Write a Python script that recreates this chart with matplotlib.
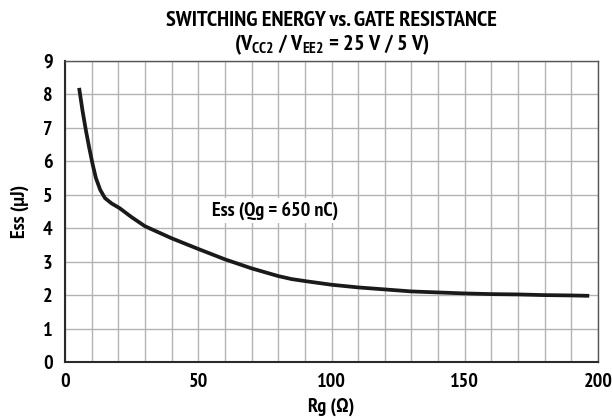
import matplotlib
matplotlib.use("Agg")
import matplotlib.pyplot as plt
from matplotlib import font_manager

# Switching energy vs. gate resistance (VCC2 / VEE2 = 25 V / 5 V)
rg_ohm = [5.4, 6.6, 7.9, 9.1, 10.4, 11.6, 13.2, 15, 17.5, 20.5, 25, 30, 40, 50,
          60, 70, 80, 85, 90, 100, 110, 120, 130, 140, 150, 160, 170, 180,
          190, 196]
ess_uj = [8.14, 7.5, 6.9, 6.4, 5.9, 5.5, 5.15, 4.9, 4.74, 4.6, 4.33, 4.06, 3.7,
          3.38, 3.07, 2.8, 2.57, 2.48, 2.42, 2.31, 2.23, 2.17, 2.11, 2.08, 2.05,
          2.03, 2.02, 2.0, 1.99, 1.98]

x_ticks = [0, 50, 100, 150, 200]
y_ticks = [0, 1, 2, 3, 4, 5, 6, 7, 8, 9]

# narrow bold sans for all text
installed = {f.name for f in font_manager.fontManager.ttflist}
family = "DejaVu Sans"
for cand in ["PT Sans Narrow", "Fira Sans Condensed", "Asap Condensed",
             "Archivo Narrow", "Liberation Sans Narrow"]:
    if cand in installed:
        family = cand
        break

plt.rcParams["font.family"] = [family, "DejaVu Sans"]
plt.rcParams["font.weight"] = "bold"
plt.rcParams["font.stretch"] = "condensed"
plt.rcParams["mathtext.default"] = "regular"

W, H = 613, 419
fig = plt.figure(figsize=(W / 100, H / 100), dpi=100)
left, right, top, bottom = 65, 598, 61, 362
ax = fig.add_axes([left / W, (H - bottom) / H, (right - left) / W, (bottom - top) / H])

ax.set_xlim(0, 200)
ax.set_ylim(0, 9)
ax.set_yticks(y_ticks)
ax.set_xticks(x_ticks, [str(v) for v in x_ticks])
ax.set_xticks(range(0, 201, 10), minor=True)
ax.grid(True, which="both", color="#b3b3b3", linewidth=1.0)
ax.set_axisbelow(True)
ax.tick_params(which="both", length=0, labelsize=14.5)
ax.tick_params(axis="x", pad=8)
ax.tick_params(axis="y", pad=9)

for side in ["left", "bottom"]:
    ax.spines[side].set_color("#2b2b2b")
    ax.spines[side].set_linewidth(1.5)
for side in ["top", "right"]:
    ax.spines[side].set_color("#555555")
    ax.spines[side].set_linewidth(1.0)

ax.plot(rg_ohm, ess_uj, color="#1a1a1a", linewidth=2.7)

ax.text(79, 4.53, "Ess (Qg = 650 nC)", ha="center", va="center", fontsize=14.5,
        bbox=dict(facecolor="white", edgecolor="none", pad=2))

ax.set_xlabel("Rg (Ω)", fontsize=14.5, fontweight="bold", labelpad=5)
ax.set_ylabel("Ess (μJ)", fontsize=14.5, fontweight="bold", labelpad=10)

cx = (left + right) / 2 / W
fig.text(cx, 1 - 21 / H, "SWITCHING ENERGY vs. GATE RESISTANCE",
         ha="center", va="center", fontsize=16)
fig.text(cx, 1 - 45 / H,
         r"(V$_{\mathregular{CC2}}$ / V$_{\mathregular{EE2}}$ = 25 V / 5 V)",
         ha="center", va="center", fontsize=16)

fig.savefig("out.png", dpi=100)
